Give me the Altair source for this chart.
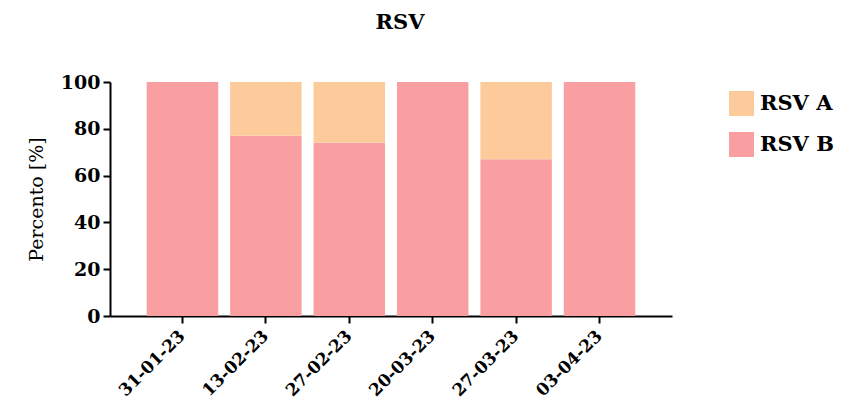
import altair as alt
import pandas as pd

dates = ["31-01-23", "13-02-23", "27-02-23", "20-03-23", "27-03-23", "03-04-23"]
rsv_b = [100, 77, 74, 100, 67, 100]
rsv_a = [0, 23, 26, 0, 33, 0]
series = ["RSV A", "RSV B"]
colors = ["#FDCB9B", "#FA9FA1"]

rows = []
for d, a, b in zip(dates, rsv_a, rsv_b):
    rows.append({"date": d, "typ": "RSV B", "val": b, "ord": 0})
    rows.append({"date": d, "typ": "RSV A", "val": a, "ord": 1})
df = pd.DataFrame(rows)

font = "DejaVu Serif"

chart = alt.Chart(df).mark_bar().encode(
    x=alt.X("date:N", sort=dates,
            scale=alt.Scale(paddingInner=0.143, paddingOuter=0.44),
            axis=alt.Axis(title=None, labelAngle=-45, labelAlign="right", labelBaseline="middle",
                          labelFontSize=17, labelFontWeight="bold", labelFont=font, labelColor="black",
                          domainColor="black", domainWidth=2, tickColor="black", tickWidth=2,
                          tickSize=7, labelPadding=10)),
    y=alt.Y("val:Q", stack="zero", scale=alt.Scale(domain=[0, 100]),
            axis=alt.Axis(title="Percento [%]", values=[0, 20, 40, 60, 80, 100], grid=False,
                          labelFontSize=19, labelFontWeight="bold", labelFont=font, labelColor="black",
                          titleFontSize=19, titleFontWeight="normal", titleFont=font, titleColor="black",
                          titlePadding=14,
                          domainColor="black", domainWidth=2, tickColor="black", tickWidth=2,
                          tickSize=7, labelPadding=3)),
    color=alt.Color("typ:N", scale=alt.Scale(domain=series, range=colors),
                    legend=alt.Legend(title=None, orient="none", legendX=619, legendY=9,
                                      symbolType="square", symbolSize=625, symbolStrokeWidth=0,
                                      symbolOpacity=1,
                                      labelFontSize=21, labelFontWeight="bold", labelFont=font,
                                      labelColor="black", rowPadding=16, labelOffset=6, padding=0,
                                      labelLimit=200)),
    order=alt.Order("ord:Q"),
).properties(
    width=562, height=234,
    title=alt.TitleParams("RSV", fontSize=21, fontWeight="bold", font=font, color="black",
                          anchor="middle", offset=40, dx=9),
    autosize=alt.AutoSizeParams(type="none"),
    padding={"left": 102, "top": 74, "right": 175, "bottom": 95},
).configure_view(stroke=None)

chart.save("out.html", embed_options={"renderer": "svg", "actions": False})
